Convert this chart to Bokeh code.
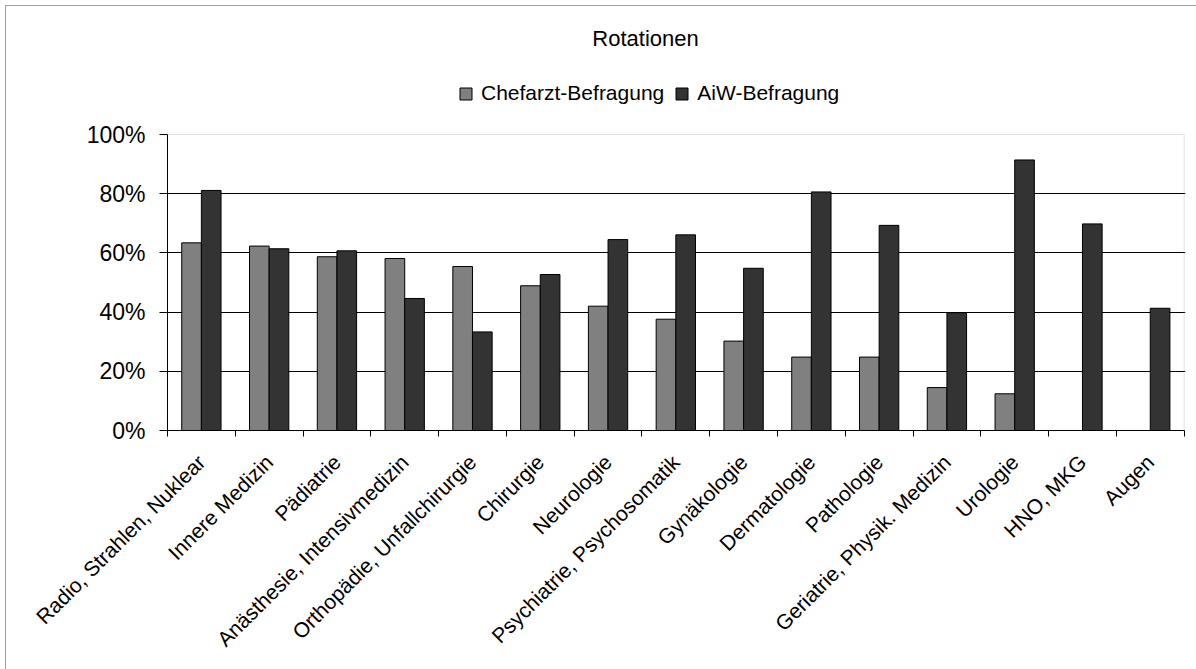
import math
from bokeh.plotting import figure
from bokeh.models import (ColumnDataSource, Range1d, FixedTicker, NumeralTickFormatter,
                          Legend, LegendItem, Label, BoxAnnotation)
from bokeh.transform import dodge
from bokeh.embed import file_html
from bokeh.resources import INLINE

# ---------------- data ----------------
categories = [
    "Radio, Strahlen, Nuklear", "Innere Medizin", "Pädiatrie",
    "Anästhesie, Intensivmedizin", "Orthopädie, Unfallchirurgie", "Chirurgie",
    "Neurologie", "Psychiatrie, Psychosomatik", "Gynäkologie", "Dermatologie",
    "Pathologie", "Geriatrie, Physik. Medizin", "Urologie", "HNO, MKG", "Augen",
]
chefarzt = [0.634, 0.623, 0.587, 0.581, 0.554, 0.489, 0.420, 0.376, 0.302,
            0.248, 0.248, 0.145, 0.124, float("nan"), float("nan")]
aiw = [0.811, 0.614, 0.607, 0.446, 0.333, 0.527, 0.645, 0.661, 0.548,
       0.806, 0.693, 0.398, 0.914, 0.698, 0.413]
series_names = ["Chefarzt-Befragung", "AiW-Befragung"]
y_ticks = [0, 0.2, 0.4, 0.6, 0.8, 1.0]
grid_ticks = [0.2, 0.4, 0.6, 0.8]
title_text = "Rotationen"

FONT = "Liberation Sans"

# layout (pixels)
W, H = 1196, 669
FRAME_LEFT, FRAME_TOP, AXIS_Y, TOP100_Y = 167, 8, 430, 134

n = len(categories)
idx = list(range(n))
source = ColumnDataSource(dict(idx=idx, chefarzt=chefarzt, aiw=aiw))

y_min, y_max = y_ticks[0], y_ticks[-1]
# frame extends above the 100% line so that title and legend live inside it
y_end = y_max * (AXIS_Y - FRAME_TOP) / (AXIS_Y - TOP100_Y)
x_start, x_end = -0.5, n - 0.5
x_pad = 0.02

p = figure(width=W, height=H, output_backend="svg", toolbar_location=None, title=None,
           x_range=Range1d(x_start, x_end + x_pad), y_range=Range1d(y_min, y_end),
           min_border_left=FRAME_LEFT, min_border_right=11, min_border_top=FRAME_TOP,
           min_border_bottom=H - AXIS_Y, background_fill_color="white",
           border_fill_color="white", border_fill_alpha=0,
           outline_line_color=None)

bw = 0.29
r1 = p.vbar(x=dodge("idx", -bw / 2, range=p.x_range), top="chefarzt", width=bw,
            source=source, fill_color="#808080", line_color="black", line_width=1)
r2 = p.vbar(x=dodge("idx", bw / 2, range=p.x_range), top="aiw", width=bw,
            source=source, fill_color="#333333", line_color="black", line_width=1)

# grid
p.xgrid.visible = False
p.ygrid.ticker = FixedTicker(ticks=grid_ticks)
p.ygrid.grid_line_color = "black"
p.ygrid.grid_line_width = 1

# plot-area border (grey), 0..100%
p.add_layout(BoxAnnotation(left=x_start, right=x_end, bottom=y_min, top=y_max,
                           fill_alpha=0, line_color="#a0a0a0", line_width=1,
                           level="underlay"))

# y axis
yax = p.yaxis[0]
yax.bounds = (y_min, y_max)
yax.ticker = FixedTicker(ticks=y_ticks)
yax.formatter = NumeralTickFormatter(format="0%")
yax.axis_line_color = "black"
yax.major_tick_line_color = "black"
yax.major_tick_out = 8
yax.major_tick_in = 0
yax.minor_tick_line_color = None
yax.major_label_standoff = 14
yax.major_label_text_font = FONT
yax.major_label_text_font_size = "23px"
yax.major_label_text_color = "black"

# x axis
xax = p.xaxis[0]
xax.bounds = (x_start, x_end)
xax.ticker = FixedTicker(ticks=idx, minor_ticks=[i - 0.5 for i in idx] + [x_end])
xax.major_label_overrides = {i: c for i, c in zip(idx, categories)}
xax.major_tick_line_color = None
xax.major_tick_out = 0
xax.major_tick_in = 0
xax.minor_tick_line_color = "black"
xax.minor_tick_out = 6
xax.minor_tick_in = 0
xax.axis_line_color = "black"
xax.major_label_orientation = math.pi / 4
xax.major_label_standoff = 22
xax.major_label_text_font = FONT
xax.major_label_text_font_size = "21px"
xax.major_label_text_color = "black"

# legend (inside the extended frame, above the 100% line)
legend = Legend(items=[LegendItem(label=series_names[0], renderers=[r1]),
                       LegendItem(label=series_names[1], renderers=[r2])],
                orientation="horizontal", location=(458 - FRAME_LEFT, AXIS_Y - 105),
                glyph_width=15, glyph_height=15, label_height=24, label_standoff=8,
                spacing=10, padding=0, margin=0, border_line_color=None,
                background_fill_alpha=0, label_text_font=FONT,
                label_text_font_size="21px", label_text_color="black")
p.add_layout(legend, "center")

# title
p.add_layout(Label(x=645 - FRAME_LEFT, y=AXIS_Y - 38, x_units="screen", y_units="screen",
                   text=title_text, text_font=FONT, text_font_size="22px",
                   text_align="center", text_baseline="middle", text_color="black"))

p.styles = {
    "background": "linear-gradient(#a0a0a0,#a0a0a0) 5px 5px / 1px 100% no-repeat, "
                  "linear-gradient(#a0a0a0,#a0a0a0) 5px 5px / 100% 1px no-repeat, white"
}

open("out.html", "w").write(file_html(p, INLINE))
